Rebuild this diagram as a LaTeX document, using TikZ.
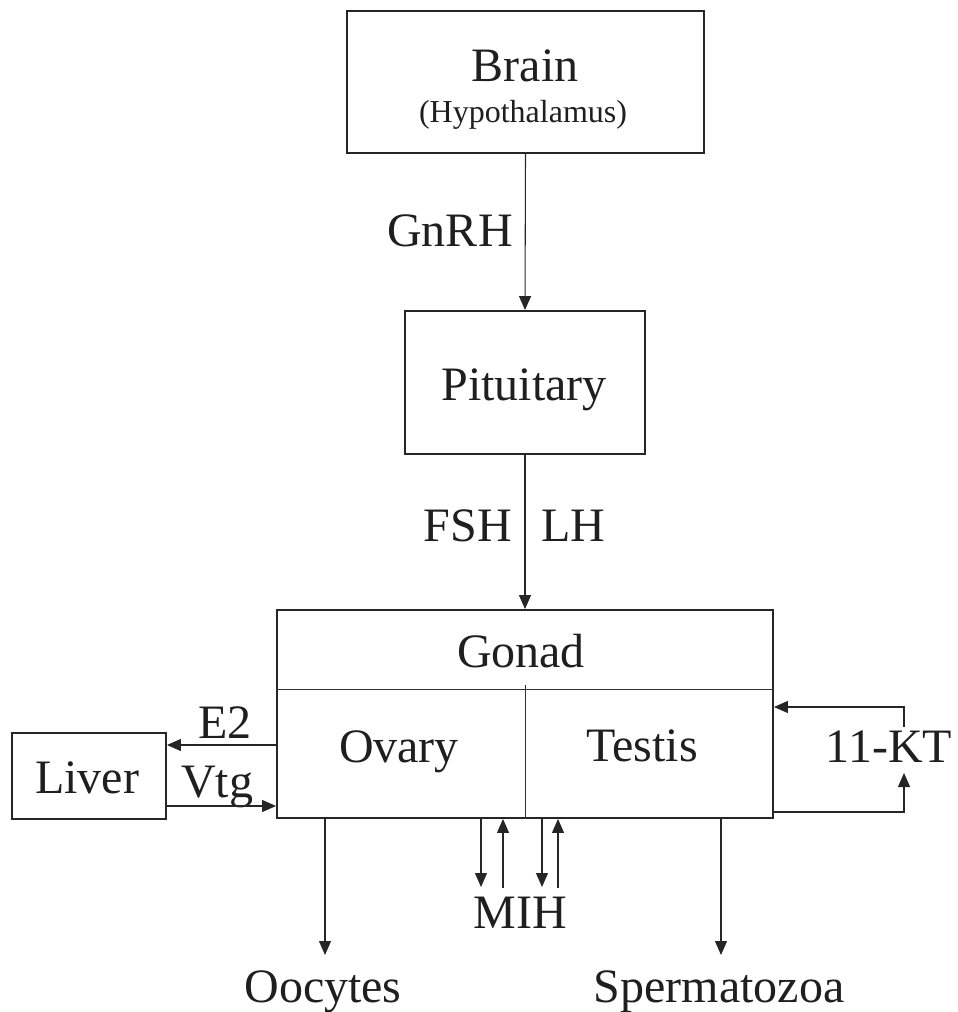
\documentclass[tikz,border=0pt]{standalone}
\usepackage{fontspec}
\setmainfont{Liberation Serif}
\usetikzlibrary{arrows.meta}
\begin{document}
\begin{tikzpicture}[x=0.75pt,y=-0.75pt,
  box/.style={draw=black!85,line width=1.4pt,rectangle,inner sep=0pt},
  arr/.style={draw=black!85,line width=0.8pt,-{Triangle[length=10.5pt,width=9pt]}},
  thin/.style={draw=black!80,line width=0.7pt},
  lbl/.style={anchor=base,inner sep=0pt,font=\fontsize{36}{40}\selectfont,text=black!88},
  small/.style={anchor=base,inner sep=0pt,font=\fontsize{24}{28}\selectfont,text=black!88}]
\useasboundingbox (0,0) rectangle (957,1012);
% boxes
\node[box,minimum width=357*0.75pt,minimum height=142*0.75pt] (brain) at (525.5,82) {};
\node[box,minimum width=240*0.75pt,minimum height=143*0.75pt] (pit) at (525,382.5) {};
\node[box,minimum width=496*0.75pt,minimum height=208*0.75pt] (gonad) at (525,714) {};
\node[box,minimum width=154*0.75pt,minimum height=86*0.75pt] (liver) at (89,776) {};
% gonad internal lines
\coordinate (hl) at (0,689);
\coordinate (dv) at (525,685);
\draw[thin] (gonad.west |- hl) -- (gonad.east |- hl);
\draw[thin] (dv) -- (dv |- gonad.south);
% texts
\node[lbl] (tbrain) at (525,82) {Brain};
\node[small] (thyp) at (523,123) {(Hypothalamus)};
\node[lbl] (tgnrh) at (450,247) {GnRH};
\node[lbl] (tpit) at (524,400) {Pituitary};
\node[lbl] (tfsh) at (468,541) {FSH};
\node[lbl] (tlh) at (573,541) {LH};
\node[lbl] (tgonad) at (521,667) {Gonad};
\node[lbl] (tovary) at (399,762) {Ovary};
\node[lbl] (ttestis) at (642,761) {Testis};
\node[lbl] (tkt) at (889,762) {11-KT};
\node[lbl] (te2) at (225,738) {E2};
\node[lbl] (tvtg) at (217,797) {Vtg};
\node[lbl] (tliver) at (87,793) {Liver};
\node[lbl] (tmih) at (520,928) {MIH};
\node[lbl] (toocytes) at (323,1002) {Oocytes};
\node[lbl] (tsperm) at (719,1002) {Spermatozoa};
% main vertical arrows
\draw[arr] (brain.south) -- (pit.north);
\draw[arr] (pit.south) -- (gonad.north);
% liver arrows
\coordinate (e2y) at (0,745);
\coordinate (vtgy) at (0,806);
\draw[arr] (gonad.west |- e2y) -- (liver.east |- e2y);
\draw[arr] (liver.east |- vtgy) -- (gonad.west |- vtgy);
% 11-KT loop
\coordinate (ktup) at (904,707);
\coordinate (ktlow) at (904,812);
\coordinate (ktupend) at (904,727);
\coordinate (ktlowend) at (904,773);
\draw[arr] (ktupend) -- (ktup) -- (gonad.east |- ktup);
\draw[arr] (gonad.east |- ktlow) -- (ktlow) -- (ktlowend);
% MIH arrows
\coordinate (m1) at (481,887);
\coordinate (m2) at (503,888);
\coordinate (m3) at (542,887);
\coordinate (m4) at (558,888);
\draw[arr] (m1 |- gonad.south) -- (m1);
\draw[arr] (m2) -- (m2 |- gonad.south);
\draw[arr] (m3 |- gonad.south) -- (m3);
\draw[arr] (m4) -- (m4 |- gonad.south);
% output arrows
\coordinate (oo) at (325,955);
\coordinate (sp) at (721,955);
\draw[arr] (oo |- gonad.south) -- (oo);
\draw[arr] (sp |- gonad.south) -- (sp);
\end{tikzpicture}
\end{document}
